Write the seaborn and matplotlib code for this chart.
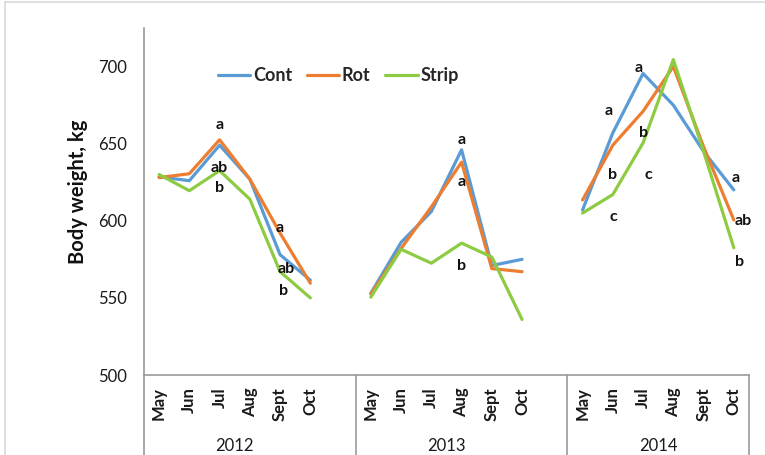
import numpy as np
import pandas as pd
import matplotlib.pyplot as plt
import matplotlib.transforms as mtransforms
import seaborn as sns

# data
years = ["2012", "2013", "2014"]
months = ["May", "Jun", "Jul", "Aug", "Sept", "Oct"]
treatments = ["Cont", "Rot", "Strip"]

cont = [628.5, 626, 649, 627, 578, 561.5,
        553, 586, 606, 646, 571, 575,
        607, 657, 695.5, 675, 645, 620]
rot = [628, 630.5, 652.5, 627, 592, 559.5,
       552.5, 582, 609, 638, 569, 567,
       613.5, 649, 671, 700, 648, 600.5]
strip = [630, 619.5, 632.5, 614, 567, 550,
         550.5, 581.5, 572.5, 585.5, 576.5, 536,
         605, 617, 650.5, 704.5, 645, 582.5]

# significance letters: year, month, label height, text
letter_year = ["2012"] * 6 + ["2013"] * 3 + ["2014"] * 9
letter_month = ["Jul", "Jul", "Jul", "Sept", "Sept", "Sept",
                "Aug", "Aug", "Aug",
                "Jun", "Jun", "Jun", "Jul", "Jul", "Jul", "Oct", "Oct", "Oct"]
letter_y = [662, 634.5, 621, 595.5, 569, 554.5,
            652.5, 625, 571,
            671, 630, 602.5, 699, 657, 630, 628, 600, 573]
letter_text = ["a", "ab", "b", "a", "ab", "b",
               "a", "a", "b",
               "a", "b", "c", "a", "b", "c", "a", "ab", "b"]
letter_dx = [0, 0, 0, 0, 0.2, 0.1,
             0, 0, 0,
             -0.13, 0, 0, -0.13, 0.03, 0.17, 0.05, 0.3, 0.2]

colors = {"Cont": "#5B9BD5", "Rot": "#ED7D31", "Strip": "#8DCB43"}

# each year is a block of 6 months plus one empty slot
def pos(year, month):
    return years.index(year) * 7 + months.index(month)

rows = []
for t, vals in zip(treatments, [cont, rot, strip]):
    for i, v in enumerate(vals):
        y = years[i // 6]
        m = months[i % 6]
        rows.append({"treatment": t, "year": y, "month": m,
                     "pos": pos(y, m), "weight": v})
df = pd.DataFrame(rows)

sns.set_style("white")
plt.rcParams["font.family"] = ["Lato", "DejaVu Sans"]

fig = plt.figure(figsize=(7.65, 4.55), dpi=100)
ax = fig.add_axes([0.1882, 0.1758, 0.7908, 0.7627])

sns.lineplot(data=df, x="pos", y="weight", hue="treatment", units="year",
             estimator=None, palette=colors, linewidth=2.3, ax=ax)

ax.set_xlim(-0.5, 19.5)
ax.set_ylim(500, 725)
ax.set_yticks([500, 550, 600, 650, 700])
ax.tick_params(axis="y", length=0, pad=12, labelsize=12, labelcolor="#1a1a1a")

ticks = [pos(y, m) for y in years for m in months]
ax.set_xticks(ticks)
ax.set_xticklabels(months * 3, rotation=90, fontweight="bold", fontsize=12,
                   va="top")
ax.tick_params(axis="x", length=0, pad=9, labelcolor="#1a1a1a")
ax.set_xlabel("")

ax.set_ylabel("Body weight, kg", fontsize=14.5, fontweight="bold", color="#111111")
ax.yaxis.set_label_coords(-0.093, 0.527)

for s in ["top", "right"]:
    ax.spines[s].set_visible(False)
for s in ["left", "bottom"]:
    ax.spines[s].set_color("#9a9a9a")
    ax.spines[s].set_linewidth(1.2)

# category group box under the axis
trans = mtransforms.blended_transform_factory(ax.transData, ax.transAxes)
for xb in [-0.5, 6.5, 13.5, 19.5]:
    ax.plot([xb, xb], [0, -0.235], transform=trans, color="#9a9a9a",
            lw=1.2, clip_on=False)
for y in years:
    ax.text(pos(y, "May") + 2.5, -0.205, y, transform=trans, ha="center",
            va="center", fontsize=12, color="#1a1a1a")

# letters
for yr, m, ly, txt, dx in zip(letter_year, letter_month, letter_y,
                              letter_text, letter_dx):
    ax.text(pos(yr, m) + dx, ly, txt, ha="center", va="center",
            fontsize=11.5, fontweight="bold", color="#111111")

handles, labels = ax.get_legend_handles_labels()
ax.legend(handles, labels, loc="center left", bbox_to_anchor=(0.122, 0.862),
          ncol=3, frameon=False, prop={"weight": "bold", "size": 13},
          handlelength=1.8, handletextpad=0.15, columnspacing=0.8,
          borderpad=0, borderaxespad=0)

# outer chart border (left and top visible)
fig.add_artist(plt.Line2D([5 / 765, 5 / 765], [0, 1 - 1.5 / 455],
                          transform=fig.transFigure, color="#d9d9d9", lw=1.2))
fig.add_artist(plt.Line2D([5 / 765, 1], [1 - 1.5 / 455, 1 - 1.5 / 455],
                          transform=fig.transFigure, color="#d9d9d9", lw=1.2))

fig.savefig("out.png", dpi=100)
